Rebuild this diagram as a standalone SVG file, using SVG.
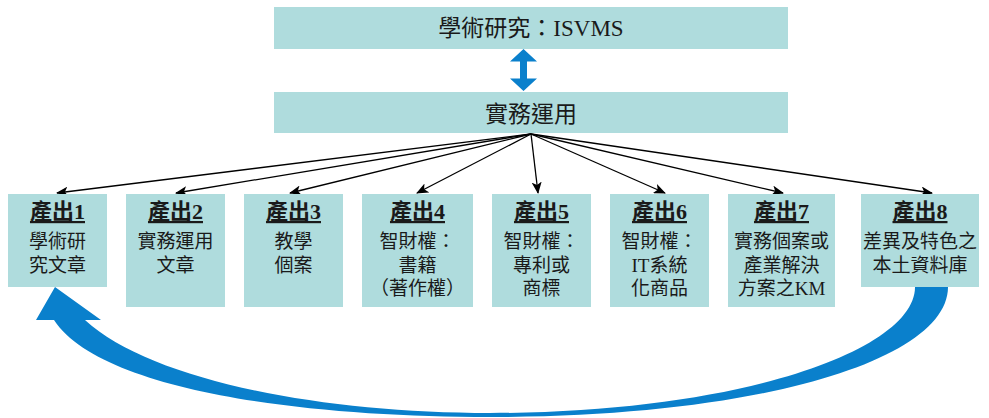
<svg xmlns="http://www.w3.org/2000/svg" width="989" height="418" viewBox="0 0 989 418">
<defs>
<style>
.box{fill:#afdcdd}
.t{font-family:"Liberation Serif","Noto Sans CJK TC",serif;fill:#1a1a1a;text-anchor:middle}
.big{font-size:23px}
.ttl{font-size:22px;font-weight:bold;text-decoration:underline}
.body{font-size:19px}
.con{stroke:#000;stroke-width:1.3;fill:none;marker-end:url(#ah)}
.blue{fill:#0a80cc}
</style>
<marker id="ah" markerWidth="12" markerHeight="10" refX="11" refY="5" orient="auto" markerUnits="userSpaceOnUse">
<path d="M0,0 L12,5 L0,10 L3,5 Z" fill="#000"/>
</marker>
</defs>
<rect width="989" height="418" fill="#fff"/>
<g id="top">
<rect class="box" x="274" y="7" width="514" height="42"/>
<text class="t big" x="531" y="36">學術研究：ISVMS</text>
</g>
<g id="double-arrow">
<polygon class="blue" points="523.5,49 537,61.5 527,61.5 527,78.5 537,78.5 523.5,91 510,78.5 520,78.5 520,61.5 510,61.5"/>
</g>
<g id="practice">
<rect class="box" x="274" y="92" width="514" height="41"/>
<text class="t big" x="531" y="122">實務運用</text>
</g>
<g id="connectors">
<line class="con" x1="531" y1="134" x2="57" y2="193"/>
<line class="con" x1="531" y1="134" x2="176" y2="193"/>
<line class="con" x1="531" y1="134" x2="290" y2="193"/>
<line class="con" x1="531" y1="134" x2="417" y2="193"/>
<line class="con" x1="531" y1="134" x2="538" y2="193"/>
<line class="con" x1="531" y1="134" x2="665" y2="193"/>
<line class="con" x1="531" y1="134" x2="783" y2="193"/>
<line class="con" x1="531" y1="134" x2="932" y2="193"/>
</g>
<g id="out1">
<rect class="box" x="8" y="194" width="99" height="93"/>
<text class="t ttl" x="57.5" y="219">產出1</text>
<text class="t body" x="57.5" y="248">學術研</text>
<text class="t body" x="57.5" y="272">究文章</text>
</g>
<g id="out2">
<rect class="box" x="126" y="194" width="99" height="113"/>
<text class="t ttl" x="175.5" y="219">產出2</text>
<text class="t body" x="175.5" y="248">實務運用</text>
<text class="t body" x="175.5" y="272">文章</text>
</g>
<g id="out3">
<rect class="box" x="244" y="194" width="99" height="113"/>
<text class="t ttl" x="293.5" y="219">產出3</text>
<text class="t body" x="293.5" y="248">教學</text>
<text class="t body" x="293.5" y="272">個案</text>
</g>
<g id="out4">
<rect class="box" x="362" y="194" width="111" height="113"/>
<text class="t ttl" x="417.5" y="219">產出4</text>
<text class="t body" x="417.5" y="248">智財權：</text>
<text class="t body" x="417.5" y="272">書籍</text>
<text class="t body" x="417.5" y="295">（著作權）</text>
</g>
<g id="out5">
<rect class="box" x="492" y="194" width="99" height="113"/>
<text class="t ttl" x="541.5" y="219">產出5</text>
<text class="t body" x="541.5" y="248">智財權：</text>
<text class="t body" x="541.5" y="272">專利或</text>
<text class="t body" x="541.5" y="295">商標</text>
</g>
<g id="out6">
<rect class="box" x="610" y="194" width="99" height="113"/>
<text class="t ttl" x="659.5" y="219">產出6</text>
<text class="t body" x="659.5" y="248">智財權：</text>
<text class="t body" x="659.5" y="272">IT系統</text>
<text class="t body" x="659.5" y="295">化商品</text>
</g>
<g id="out7">
<rect class="box" x="728" y="194" width="107" height="113"/>
<text class="t ttl" x="781.5" y="219">產出7</text>
<text class="t body" x="781.5" y="248">實務個案或</text>
<text class="t body" x="781.5" y="272">產業解決</text>
<text class="t body" x="781.5" y="295">方案之KM</text>
</g>
<g id="out8">
<rect class="box" x="861" y="194" width="118" height="93"/>
<text class="t ttl" x="920" y="219">產出8</text>
<text class="t body" x="920" y="248">差異及特色之</text>
<text class="t body" x="920" y="272">本土資料庫</text>
</g>
<g id="feedback-arrow">
<path class="blue" d="M915,287 L948,287 C948,360 760,417 490,417 C300,417 100,390 54,320 L36,320 L55,287 L101,320 L85,320 C150,380 320,413 490,413 C740,413 915,350 915,287 Z"/>
</g>
</svg>
